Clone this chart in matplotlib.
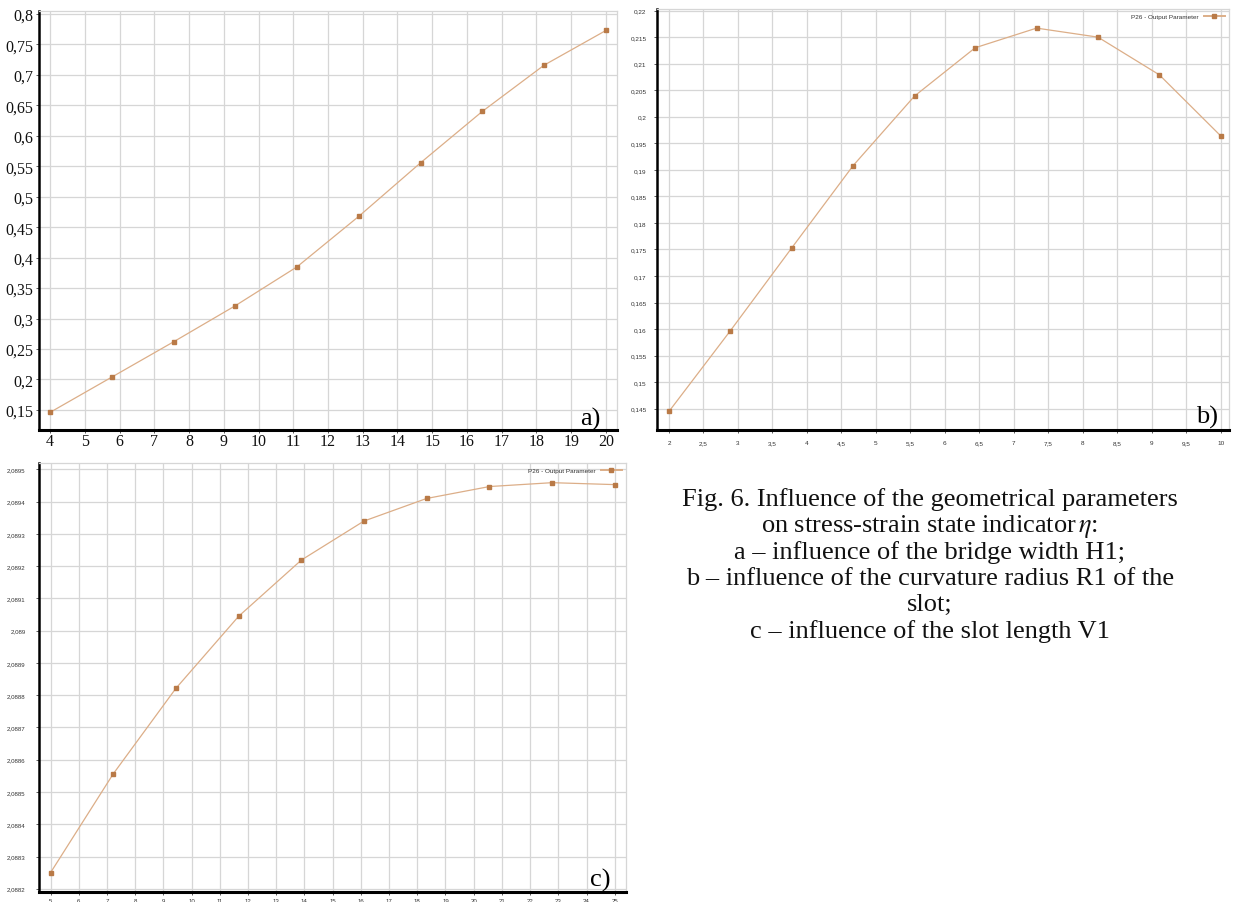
import matplotlib
matplotlib.use("Agg")
import matplotlib.pyplot as plt
from matplotlib.ticker import FixedLocator, FuncFormatter
from matplotlib.lines import Line2D

plt.rcParams["mathtext.fontset"] = "stix"

# ---- data -------------------------------------------------------------
h1 = [4, 5.78, 7.56, 9.33, 11.11, 12.89, 14.67, 16.44, 18.22, 20]
eta_a = [0.146, 0.204, 0.262, 0.321, 0.385, 0.468, 0.556, 0.640, 0.716, 0.773]
ticks_a_x = list(range(4, 21))
ticks_a_y = [0.15, 0.2, 0.25, 0.3, 0.35, 0.4, 0.45, 0.5, 0.55, 0.6, 0.65, 0.7, 0.75, 0.8]

r1 = [2, 2.89, 3.78, 4.67, 5.56, 6.44, 7.33, 8.22, 9.11, 10]
eta_b = [0.1445, 0.1597, 0.1753, 0.1908, 0.2039, 0.2130, 0.2167, 0.2150, 0.2079, 0.1964]
ticks_b_x = [2, 2.5, 3, 3.5, 4, 4.5, 5, 5.5, 6, 6.5, 7, 7.5, 8, 8.5, 9, 9.5, 10]
ticks_b_y = [0.145, 0.15, 0.155, 0.16, 0.165, 0.17, 0.175, 0.18, 0.185, 0.19,
             0.195, 0.2, 0.205, 0.21, 0.215, 0.22]

v1 = [5, 7.22, 9.44, 11.67, 13.89, 16.11, 18.33, 20.56, 22.78, 25]
eta_c = [2.08825, 2.088556, 2.088821, 2.089045, 2.089219, 2.08934,
         2.08941, 2.089447, 2.089459, 2.089453]
ticks_c_x = list(range(5, 26))
ticks_c_y = [2.0882, 2.0883, 2.0884, 2.0885, 2.0886, 2.0887, 2.0888, 2.0889,
             2.089, 2.0891, 2.0892, 2.0893, 2.0894, 2.0895]

series_label = "P26 - Output Parameter"
caption = [
    "Fig. 6. Influence of the geometrical parameters",
    "on stress-strain state indicator$\\,\\eta$:",
    "a \u2013 influence of the bridge width H1;",
    "b \u2013 influence of the curvature radius R1 of the",
    "slot;",
    "c \u2013 influence of the slot length V1",
]

# ---- style ------------------------------------------------------------
LINE_COLOR = "#dcae88"
MARK_COLOR = "#b97a47"
GRID_COLOR = "#d6d6d6"
W, H = 1234, 903


def comma(v, pos=None):
    s = "%g" % round(v, 6)
    return s.replace(".", ",")


def make_axes(fig, x0, y0, x1, y1):
    # pixel box (top-left origin) -> figure fraction
    return fig.add_axes([x0 / W, 1 - y1 / H, (x1 - x0) / W, (y1 - y0) / H])


def style_axes(ax, xt, yt, xlim, ylim, font, size, xpad, ypad):
    ax.set_xlim(*xlim)
    ax.set_ylim(*ylim)
    ax.xaxis.set_major_locator(FixedLocator(xt))
    ax.yaxis.set_major_locator(FixedLocator(yt))
    ax.xaxis.set_major_formatter(FuncFormatter(comma))
    ax.yaxis.set_major_formatter(FuncFormatter(comma))
    ax.grid(True, color=GRID_COLOR, linewidth=0.9)
    ax.set_axisbelow(True)
    for side in ("top", "right"):
        ax.spines[side].set_color(GRID_COLOR)
        ax.spines[side].set_linewidth(0.9)
    ax.spines["left"].set_color("black")
    ax.spines["left"].set_linewidth(1.8)
    ax.spines["bottom"].set_color("black")
    ax.spines["bottom"].set_linewidth(2.2)
    ax.tick_params(axis="both", length=2.5, width=0.6, color="#444444")
    ax.tick_params(axis="x", pad=xpad)
    ax.tick_params(axis="y", pad=ypad)
    for lab in ax.get_xticklabels() + ax.get_yticklabels():
        lab.set_fontfamily(font)
        lab.set_fontsize(size)


def draw_series(ax, x, y, msize):
    ax.plot(x, y, color=LINE_COLOR, linewidth=0.9, marker="s", markersize=msize,
            markerfacecolor=MARK_COLOR, markeredgecolor=MARK_COLOR, zorder=3)


fig = plt.figure(figsize=(W / 100, H / 100), dpi=100)
fig.patch.set_facecolor("white")

# ---- a) bridge width --------------------------------------------------
ax_a = make_axes(fig, 39, 12, 617, 431)
draw_series(ax_a, h1, eta_a, 2.5)
style_axes(ax_a, ticks_a_x, ticks_a_y, (3.68, 20.32), (0.117, 0.805),
           "Liberation Serif", 11.5, 0, 1.5)
for lab in ax_a.get_xticklabels() + ax_a.get_yticklabels():
    lab.set_color("#111111")
ax_a.text(0.972, 0.014, "a)", transform=ax_a.transAxes, ha="right",
          va="baseline", fontsize=19, family="Liberation Serif")

# ---- b) curvature radius ----------------------------------------------
ax_b = make_axes(fig, 657, 10, 1229, 431)
draw_series(ax_b, r1, eta_b, 2.5)
style_axes(ax_b, ticks_b_x, ticks_b_y, (1.826, 10.12), (0.141, 0.2203),
           "Liberation Sans", 4.6, 5, 5)
for lab in ax_b.get_xticklabels() + ax_b.get_yticklabels():
    lab.set_color("#333333")
ax_b.text(0.981, 0.017, "b)", transform=ax_b.transAxes, ha="right",
          va="baseline", fontsize=19, family="Liberation Serif")

# ---- c) slot length ---------------------------------------------------
ax_c = make_axes(fig, 39, 464, 626, 893)
draw_series(ax_c, v1, eta_c, 2.5)
style_axes(ax_c, ticks_c_x, ticks_c_y, (4.59, 25.4), (2.08819, 2.08952),
           "Liberation Sans", 4.4, 2, 7)
for lab in ax_c.get_xticklabels() + ax_c.get_yticklabels():
    lab.set_color("#333333")
ax_c.text(0.973, 0.014, "c)", transform=ax_c.transAxes, ha="right",
          va="baseline", fontsize=19, family="Liberation Serif")

# legends for b) and c): text first, sample line with marker after it
for ax in (ax_b, ax_c):
    handle = Line2D([], [], color=LINE_COLOR, linewidth=1.4, marker="s",
                    markersize=2.4, markerfacecolor=MARK_COLOR,
                    markeredgecolor=MARK_COLOR)
    leg = ax.legend([handle], [series_label], loc="upper right",
                    markerfirst=False, frameon=False,
                    prop={"family": "Liberation Sans", "size": 4.6},
                    handlelength=3.2, handletextpad=0.8,
                    borderaxespad=0.4, borderpad=0.3)
    for t in leg.get_texts():
        t.set_color("#333333")

# ---- caption ----------------------------------------------------------
y0 = 500
for i, line in enumerate(caption):
    fig.text(930 / W, 1 - (y0 + i * 26.3) / H, line, ha="center", va="center",
             fontsize=19, family="Liberation Serif", color="#111111")

fig.savefig("out.png", dpi=100, facecolor="white")
